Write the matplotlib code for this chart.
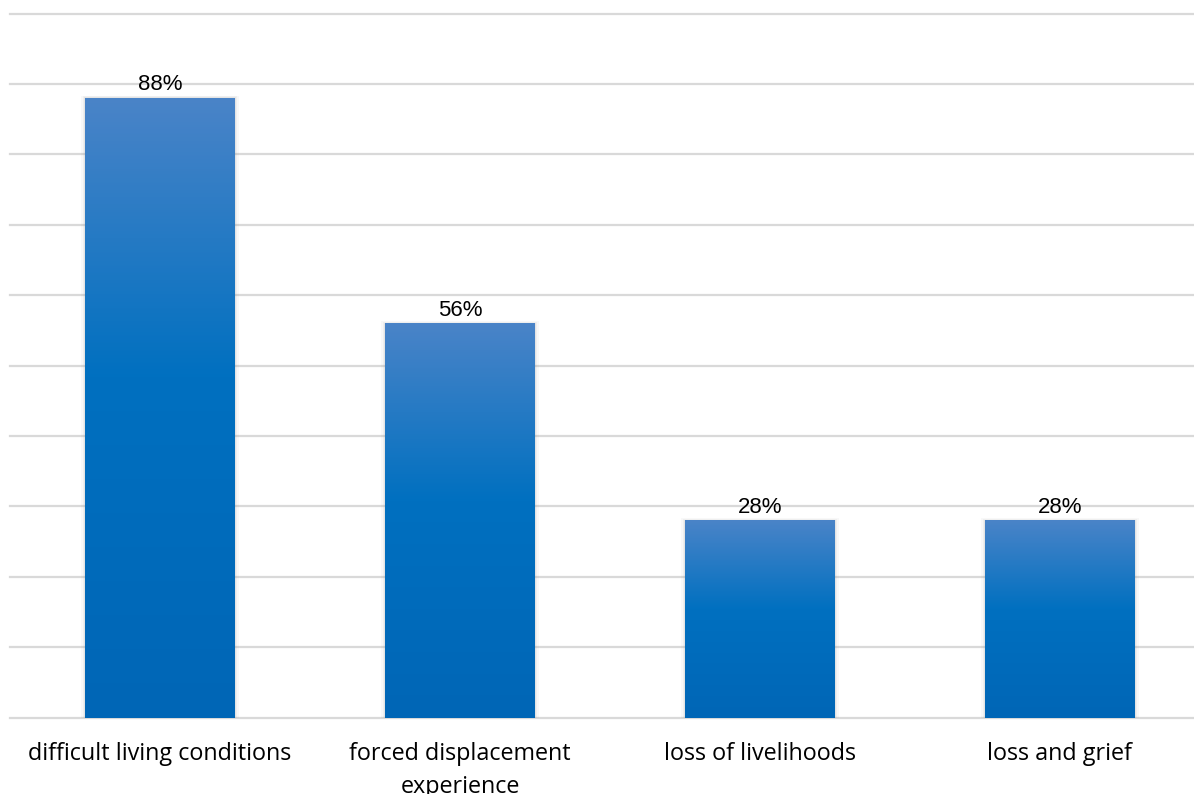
import numpy as np
import matplotlib.pyplot as plt
from matplotlib.colors import LinearSegmentedColormap
from matplotlib.patches import Rectangle

categories = ['difficult living conditions', 'forced displacement\nexperience',
              'loss of livelihoods', 'loss and grief']
values = [88, 56, 28, 28]
labels = ['88%', '56%', '28%', '28%']

fig = plt.figure(figsize=(11.94, 7.94), dpi=100)
ax = fig.add_axes([10 / 1194, 1 - 717.5 / 794, 1 - 10 / 1194, (717.5 - 13.7) / 794])

ax.set_yticks(np.arange(0, 101, 10))
ax.yaxis.grid(True, color='#d9d9d9', linewidth=1.6)
for gl in ax.get_ygridlines():
    gl.set_clip_on(False)
ax.set_axisbelow(True)
for s in ax.spines.values():
    s.set_visible(False)
ax.tick_params(axis='y', left=False, labelleft=False)
ax.tick_params(axis='x', bottom=False, pad=14)

# vertical gradient: light top -> #0070c0 middle -> slightly darker bottom
cmap = LinearSegmentedColormap.from_list(
    'grad', [(0, '#4a84c8'), (0.45, '#0070c0'), (1, '#0066b6')])
grad = np.linspace(0, 1, 256).reshape(-1, 1)

w = 0.5
for i, v in enumerate(values):
    # soft shadow
    for k, a in enumerate([0.05, 0.07, 0.09]):
        d = 0.012 - k * 0.004
        ax.add_patch(Rectangle((i - w / 2 - d, -0.3), w + 2 * d, v + 0.3 + d * 30,
                               facecolor='#808080', alpha=a, edgecolor='none', zorder=2))
    im = ax.imshow(grad, cmap=cmap, aspect='auto', extent=(i - w / 2, i + w / 2, 0, v),
                   origin='upper', zorder=3)
    rect = Rectangle((i - w / 2, 0), w, v, transform=ax.transData, facecolor='none',
                     edgecolor='none')
    ax.add_patch(rect)
    im.set_clip_path(rect)
    ax.text(i, v + 0.4, labels[i], ha='center', va='bottom', fontsize=16,
            family='Liberation Sans', color='#000000', zorder=4)

ax.set_xlim(-0.5, 3.447)
ax.set_ylim(0, 100)
ax.set_xticks(range(len(categories)))
ax.set_xticklabels(categories, fontsize=16.8, family='Open Sans', color='#000000',
                   linespacing=1.5)

fig.savefig('out.png', dpi=100)
